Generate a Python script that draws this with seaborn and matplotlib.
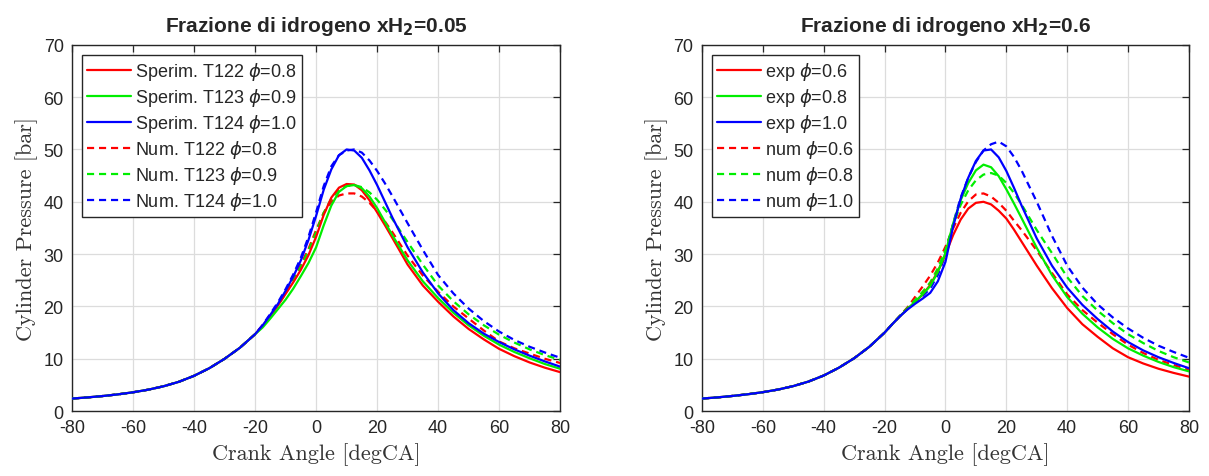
import matplotlib
matplotlib.use("Agg")
import matplotlib.pyplot as plt
import seaborn as sns

# ---------------- data ----------------
crank_angle = [-80, -75, -70, -65, -60, -55, -50, -45, -40, -35, -30, -25, -20,
               -17.5, -15, -12.5, -10, -7.5, -5, -2.5, 0, 2.5, 5, 7.5, 10, 12.5,
               15, 17.5, 20, 22.5, 25,
               30, 35, 40, 45, 50, 55, 60, 65, 70, 75, 80]

# shared compression part (-80 .. -20)
comp_left = [2.4, 2.62, 2.88, 3.2, 3.6, 4.1, 4.75, 5.6, 6.75, 8.2, 10.0, 12.1, 14.7]
comp_right = [2.4, 2.62, 2.9, 3.22, 3.62, 4.12, 4.78, 5.65, 6.8, 8.3, 10.1, 12.3, 15.0]

# left panel, xH2 = 0.05 (values from -17.5 to 80)
exp_T122 = [16.3, 18.2, 20.2, 22.4, 24.6, 27.0, 29.8, 33.3, 37.5, 40.8, 42.7, 43.4, 43.3,
            42.2, 40.3, 38.0, 35.6, 33.1,
            28.0, 24.0, 20.9, 18.1, 15.7, 13.7, 11.9, 10.5, 9.3, 8.3, 7.45]
exp_T123 = [16.0, 17.7, 19.5, 21.3, 23.4, 25.8, 28.3, 31.3, 35.5, 39.3, 41.9, 43.0, 43.2,
            42.6, 41.0, 38.8, 36.2, 33.6,
            28.8, 24.8, 21.6, 18.8, 16.4, 14.4, 12.7, 11.3, 10.1, 9.0, 8.1]
exp_T124 = [16.4, 18.4, 20.5, 23.0, 25.7, 28.8, 32.7, 37.3, 42.3, 46.2, 48.9, 50.0, 49.8,
            48.4, 46.0, 43.2, 40.1, 37.0,
            31.3, 26.5, 22.5, 19.3, 16.8, 14.8, 13.2, 11.8, 10.6, 9.5, 8.5]
num_T122 = [16.4, 18.4, 20.4, 22.7, 25.2, 28.0, 31.0, 34.6, 37.9, 40.0, 41.2, 41.6, 41.6,
            41.0, 39.8, 38.2, 36.3, 34.2,
            29.7, 25.9, 22.8, 20.0, 17.7, 15.4, 13.3, 12.0, 11.0, 10.0, 9.2]
num_T123 = [16.3, 18.2, 20.3, 22.5, 24.9, 27.6, 30.6, 34.2, 37.9, 40.6, 42.3, 43.0, 43.2,
            42.8, 41.8, 40.4, 38.6, 36.7,
            32.3, 28.0, 24.0, 21.0, 18.5, 16.4, 14.6, 13.1, 11.8, 10.7, 9.8]
num_T124 = [16.5, 18.6, 20.8, 23.3, 26.1, 29.3, 33.3, 38.0, 43.0, 46.8, 48.9, 49.8, 50.0,
            49.4, 47.9, 45.9, 43.6, 41.1,
            35.9, 30.8, 26.0, 22.5, 19.6, 17.2, 15.2, 13.6, 12.3, 11.2, 10.2]

# right panel, xH2 = 0.6 (values from -17.5 to 80)
exp_06 = [16.6, 18.1, 19.5, 20.8, 22.3, 24.1, 26.7, 29.9, 33.6, 36.6, 38.7, 39.8, 40.0,
          39.5, 38.3, 36.8, 34.7, 32.4,
          27.8, 23.5, 19.7, 16.6, 14.2, 12.0, 10.3, 9.1, 8.1, 7.3, 6.6]
exp_08 = [16.6, 18.1, 19.5, 20.9, 22.3, 23.9, 26.6, 30.2, 35.8, 40.3, 43.6, 46.0, 47.1,
          46.6, 44.9, 42.4, 39.7, 36.9,
          31.2, 26.0, 21.8, 18.6, 16.0, 13.8, 12.0, 10.6, 9.4, 8.4, 7.6]
exp_10 = [16.6, 18.1, 19.4, 20.5, 21.5, 22.6, 24.8, 28.5, 35.2, 40.6, 44.6, 47.8, 49.8,
          50.0, 48.5, 45.9, 42.7, 39.3,
          33.0, 27.8, 23.6, 20.3, 17.6, 15.2, 13.2, 11.6, 10.3, 9.2, 8.2]
num_06 = [16.6, 18.2, 19.8, 21.8, 23.8, 25.9, 28.4, 31.4, 34.9, 37.9, 40.1, 41.4, 41.6,
          41.0, 39.8, 38.3, 36.4, 34.6,
          30.7, 26.4, 22.3, 19.3, 16.9, 14.7, 12.7, 11.1, 9.8, 8.8, 7.9]
num_08 = [16.6, 18.2, 19.7, 21.2, 22.8, 24.6, 27.3, 30.8, 35.6, 39.4, 42.2, 44.1, 45.2,
          45.5, 45.0, 43.6, 41.7, 39.5,
          34.6, 30.2, 25.6, 22.0, 19.2, 16.8, 14.7, 13.0, 11.5, 10.3, 9.3]
num_10 = [16.6, 18.1, 19.5, 20.8, 22.0, 23.4, 26.0, 29.8, 35.8, 40.8, 44.6, 47.6, 49.8,
          51.0, 51.5, 50.6, 48.6, 46.0,
          40.0, 33.5, 27.8, 23.6, 20.4, 17.9, 15.8, 14.0, 12.5, 11.3, 10.2]

left_labels = [r"Sperim. T122 $\phi$=0.8", r"Sperim. T123 $\phi$=0.9", r"Sperim. T124 $\phi$=1.0",
               r"Num. T122 $\phi$=0.8", r"Num. T123 $\phi$=0.9", r"Num. T124 $\phi$=1.0"]
right_labels = [r"exp $\phi$=0.6", r"exp $\phi$=0.8", r"exp $\phi$=1.0",
                r"num $\phi$=0.6", r"num $\phi$=0.8", r"num $\phi$=1.0"]
titles = [r"Frazione di idrogeno xH$_\mathbf{2}$=0.05", r"Frazione di idrogeno xH$_\mathbf{2}$=0.6"]
x_ticks = [-80, -60, -40, -20, 0, 20, 40, 60, 80]
y_ticks = [0, 10, 20, 30, 40, 50, 60, 70]

# ---------------- style ----------------
sns.set_style("white")
plt.rcParams["font.family"] = ["Liberation Sans", "DejaVu Sans"]
plt.rcParams["axes.unicode_minus"] = False
plt.rcParams["mathtext.fontset"] = "dejavusans"

colors = ["#ff0000", "#00ee00", "#0000ff"]
lw = 1.6
dash = (0, (3.2, 2.2))

fig = plt.figure(figsize=(12.09, 4.77), dpi=100)
ax1 = fig.add_axes([0.0596, 0.136, 0.4037, 0.768])
ax2 = fig.add_axes([0.5806, 0.136, 0.4028, 0.768])

panels = [
    (ax1, comp_left, [exp_T122, exp_T123, exp_T124, num_T122, num_T123, num_T124], left_labels, titles[0]),
    (ax2, comp_right, [exp_06, exp_08, exp_10, num_06, num_08, num_10], right_labels, titles[1]),
]

for ax, comp, series, labels, title in panels:
    for i, (vals, lab) in enumerate(zip(series, labels)):
        y = comp + vals
        ls = "-" if i < 3 else dash
        sns.lineplot(x=crank_angle, y=y, ax=ax, color=colors[i % 3], linestyle=ls,
                     linewidth=lw, label=lab, zorder=3 + (i < 3))
    ax.set_xlim(-80, 80)
    ax.set_ylim(0, 70)
    ax.set_xticks(x_ticks)
    ax.set_yticks(y_ticks)
    ax.grid(True, color="#dcdcdc", linewidth=0.9)
    ax.set_axisbelow(True)
    ax.tick_params(direction="in", top=True, right=True, length=5, width=0.9,
                   labelsize=13, pad=6, colors="#262626")
    for sp in ax.spines.values():
        sp.set_color("#262626")
        sp.set_linewidth(1.0)
    ax.set_xlabel("Crank Angle [degCA]", family="cmr10", fontsize=16, color="#333333", labelpad=4)
    ax.set_ylabel("Cylinder Pressure [bar]", family="cmr10", fontsize=16, color="#333333", labelpad=4)
    ax.set_title(title, fontsize=15, fontweight="bold", pad=10)
    leg = ax.legend(loc="upper left", fontsize=13, frameon=True, fancybox=False,
                    edgecolor="#262626", framealpha=1, borderaxespad=0.55,
                    handlelength=2.4, handletextpad=0.25, labelspacing=0.22, borderpad=0.3)
    leg.get_frame().set_linewidth(1.0)

fig.savefig("out.png", dpi=100)
